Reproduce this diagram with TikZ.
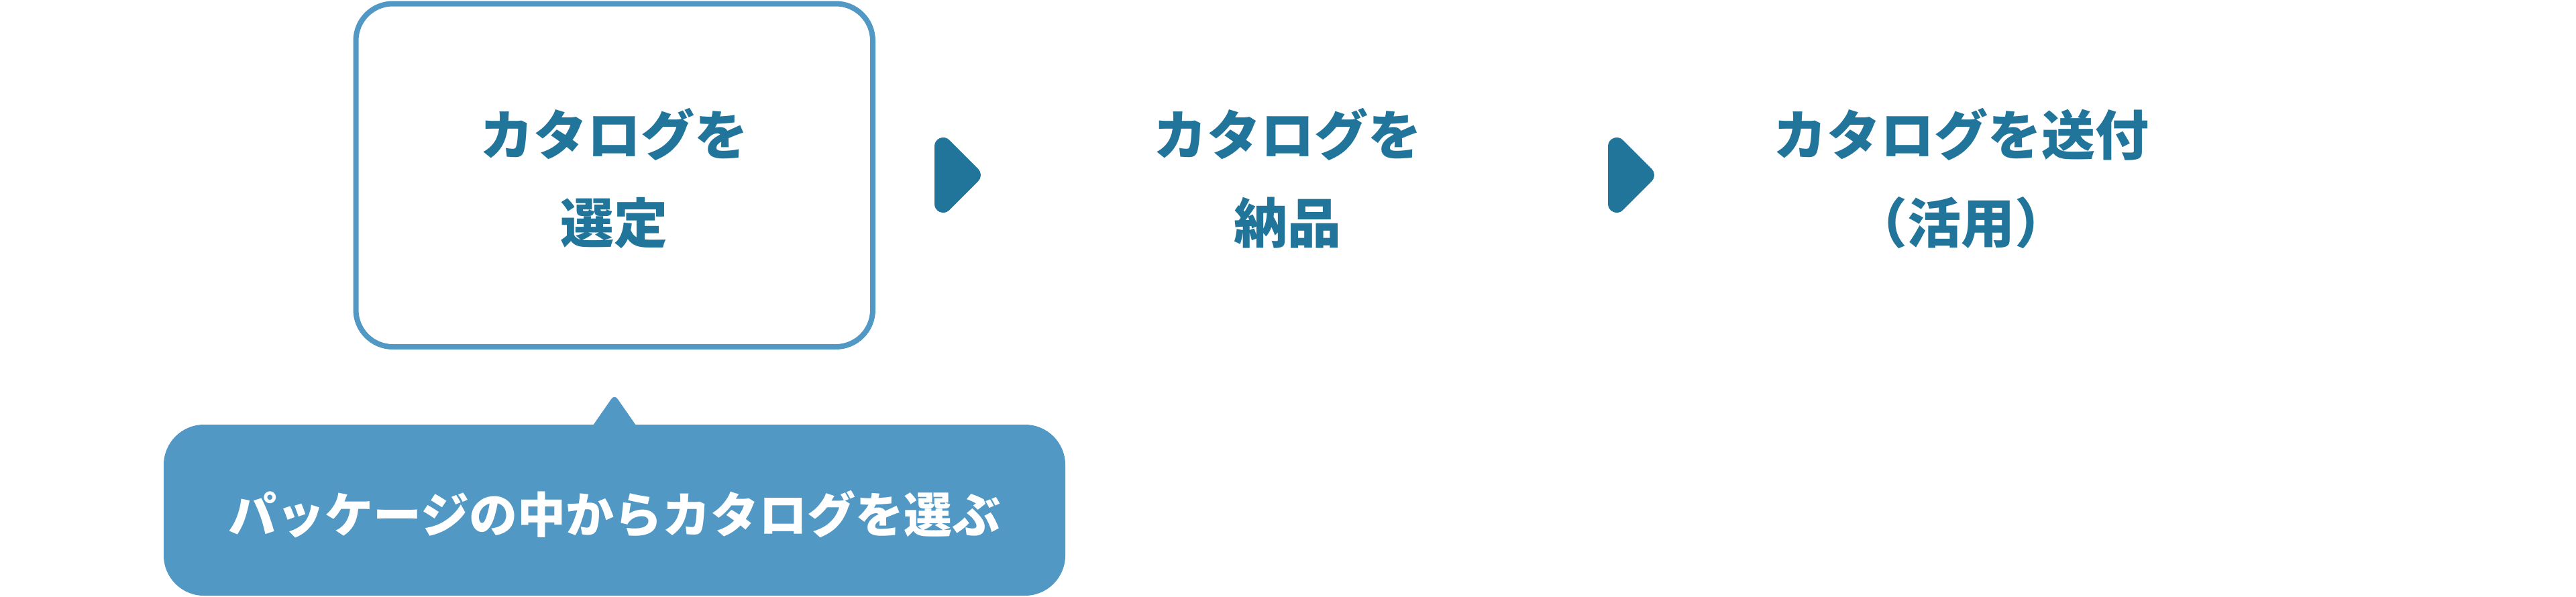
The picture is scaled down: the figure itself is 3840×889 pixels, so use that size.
\documentclass[tikz,border=0pt]{standalone}
\usepackage{fontspec}
\setmainfont{Noto Sans CJK JP}
\definecolor{stepblue}{RGB}{33,117,155}
\definecolor{boxblue}{RGB}{81,152,196}
\begin{document}
\begin{tikzpicture}[x=1pt,y=-1pt,
    steptext/.style={text=stepblue,align=center,font=\bfseries\fontsize{80pt}{131pt}\selectfont},
    steparrow/.style={fill=stepblue,draw=stepblue,line width=26pt,line join=round},
    tiptext/.style={text=white,font=\bfseries\fontsize{72pt}{90pt}\selectfont}]
     \useasboundingbox (0,0) rectangle (3840,889);

     % first step, framed
     \draw[boxblue,line width=8pt,rounded corners=55pt] (530.5,5.5) rectangle (1301,517);
     \node[steptext] (select) at (915,266) {カタログを\\選定};

     \node[steptext] (deliver) at (1919,266) {カタログを\\納品};
     \node[steptext] (send) at (2923,266) {カタログを送付\\（活用）};

     % arrows between the steps
     \foreach \ax in {1406,2410}
       \filldraw[steparrow] (\ax,218) -- (\ax+43,261) -- (\ax,304) -- cycle;

     % callout under the first step
     \fill[boxblue,rounded corners=8pt] (866,660) -- (916,588) -- (966,660) -- cycle;
     \fill[boxblue,rounded corners=60pt] (244,633) rectangle (1588,888);
     \node[tiptext] (tip) at (916,767) {パッケージの中からカタログを選ぶ};
\end{tikzpicture}
\end{document}
